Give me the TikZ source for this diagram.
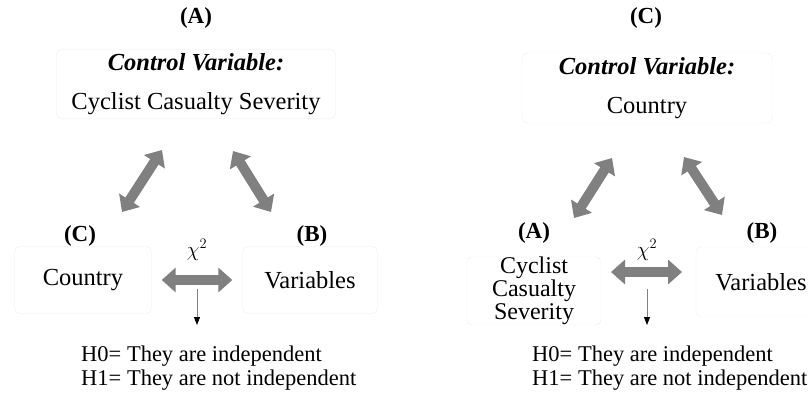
\documentclass[tikz,border=0pt]{standalone}
\usepackage{fontspec}
\setmainfont{Liberation Serif}
\usetikzlibrary{arrows.meta, positioning}
\definecolor{arrowgray}{RGB}{128,128,128}
\definecolor{boxline}{RGB}{236,236,236}

\tikzset{
	tag/.style={font=\fontsize{23}{27}\selectfont\bfseries, inner sep=0pt},
	varbox/.style={draw=boxline, rounded corners=5pt, align=center, inner sep=0pt, font=\fontsize{24.5}{24.5}\selectfont},
	bigarrow/.style={draw=arrowgray, line width=10pt, {Triangle[length=14pt,width=24pt]}-{Triangle[length=14pt,width=24pt]}},
	testarrow/.style={draw=gray, line width=0.9pt, -{Triangle[length=8pt,width=6pt,color=black]}},
	hyp/.style={align=left, inner sep=0pt, font=\fontsize{22.5}{24.5}\selectfont},
	chisq/.style={font=\fontsize{21}{22}\selectfont, inner sep=0pt}
}

\begin{document}
\begin{tikzpicture}[x=1pt, y=-1pt]
			\useasboundingbox (0,0) rectangle (808,400);
			\clip (0,0) rectangle (808,400);
			% left: control variable (A)
			\node[tag] (tagA) at (196,18) {(A)};
			\node[varbox, minimum width=279pt, minimum height=69pt] (ctrlA) at (196,84) {\textbf{\textit{Control Variable:}}\\[14pt]Cyclist Casualty Severity};
			\node[tag] (tagAC) at (80,236) {(C)};
			\node[varbox, minimum width=137pt, minimum height=67pt] (cntA) at (83,280) {Country};
			\node[tag] (tagAB) at (312,236) {(B)};
			\node[varbox, minimum width=135pt, minimum height=67pt] (varA) at (310,280) {Variables};
			\node[chisq] (chiA) at (197,250) {$\chi^2$};
			\coordinate (upAl) at (162,150);
			\coordinate (dnAl) at (122,212);
			\coordinate (upAr) at (233,151);
			\coordinate (dnAr) at (271,212);
			\draw[bigarrow] (upAl) -- (dnAl);
			\draw[bigarrow] (upAr) -- (dnAr);
			\draw[bigarrow, shorten <=10pt, shorten >=10pt] (cntA) -- (varA);
			\coordinate (testA) at (197,289);
			\coordinate (testAend) at (197,325);
			\draw[testarrow] (testA) -- (testAend);
			\node[hyp, anchor=west] (hypA) at (81,368) {H0= They are independent\\H1= They are not independent};

			% right: control variable (C)
			\node[tag] (tagC) at (646,18) {(C)};
			\node[varbox, minimum width=250pt, minimum height=70pt] (ctrlC) at (647,88) {\textbf{\textit{Control Variable:}}\\[14pt]Country};
			\node[tag] (tagCA) at (534,233) {(A)};
			\node[varbox, minimum width=134pt, minimum height=68pt, font=\fontsize{24}{23}\selectfont] (cycC) at (534,291) {Cyclist\\Casualty\\Severity};
			\node[tag] (tagCB) at (762,233) {(B)};
			\node[varbox, minimum width=130pt, minimum height=70pt] (varC) at (761,282) {Variables};
			\node[chisq] (chiC) at (647,250) {$\chi^2$};
			\coordinate (upCl) at (612,158);
			\coordinate (dnCl) at (574,218);
			\coordinate (upCr) at (684,157);
			\coordinate (dnCr) at (722,215);
			\coordinate (lfC) at (611,272);
			\coordinate (rtC) at (682,272);
			\draw[bigarrow] (upCl) -- (dnCl);
			\draw[bigarrow] (upCr) -- (dnCr);
			\draw[bigarrow] (lfC) -- (rtC);
			\coordinate (testC) at (647,289);
			\coordinate (testCend) at (647,325);
			\draw[testarrow] (testC) -- (testCend);
			\node[hyp, anchor=west] (hypC) at (532,368) {H0= They are independent\\H1= They are not independent};
		\end{tikzpicture}
\end{document}
